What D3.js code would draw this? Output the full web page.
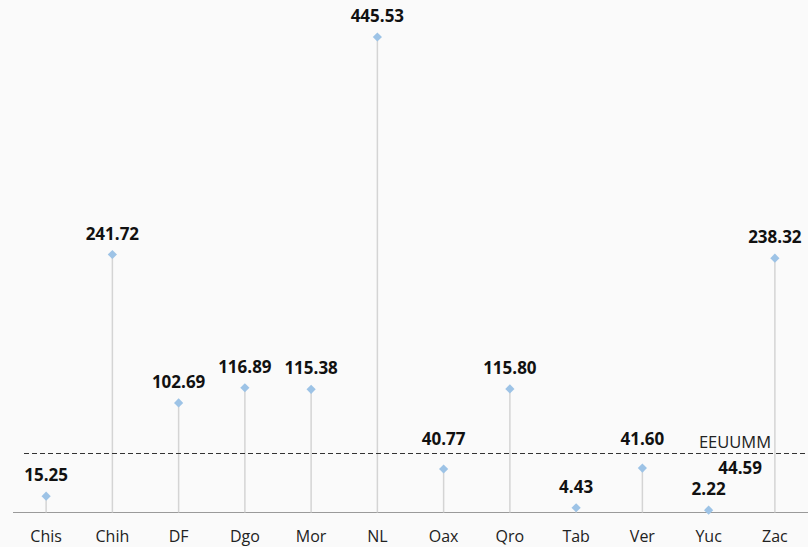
<!DOCTYPE html>
<html>
<head>
<meta charset="utf-8">
<script src="https://cdn.jsdelivr.net/npm/d3@7"></script>
<style>
  html, body { margin: 0; padding: 0; background: #fafafa; }
  svg { display: block; font-family: "Open Sans", "Noto Sans", sans-serif; }
  .stem { stroke: #d4d4d4; stroke-width: 1.5; }
  .dot { fill: #9dc3e6; }
  .val { font-weight: bold; font-size: 17px; fill: #111; }
  .cat { font-size: 16px; fill: #222; }
</style>
</head>
<body>
<div id="main"></div>
<script>
// values
var states = ['Chis', 'Chih', 'DF', 'Dgo', 'Mor', 'NL', 'Oax', 'Qro', 'Tab', 'Ver', 'Yuc', 'Zac'];
var values = [15.25, 241.72, 102.69, 116.89, 115.38, 445.53, 40.77, 115.80, 4.43, 41.60, 2.22, 238.32];
var refName = 'EEUUMM';
var refLabel = '44.59';
var refLevel = 55.5; // where the dashed line sits in the picture

var width = 808, height = 547;

var svg = d3.select('#main').append('svg')
  .attr('width', width)
  .attr('height', height);

var x = d3.scaleBand()
  .domain(states)
  .range([13, 808]);

var y = d3.scaleLinear()
  .domain([0, d3.max(values)])
  .range([512.5, 37]);

var data = states.map(function(s, i) { return { state: s, value: values[i] }; });

// baseline
svg.append('line')
  .attr('x1', 13).attr('x2', width)
  .attr('y1', y(0)).attr('y2', y(0))
  .attr('stroke', '#9a9a9a')
  .attr('stroke-width', 1);

// stems
svg.selectAll('.stem')
  .data(data)
  .enter().append('line')
  .attr('class', 'stem')
  .attr('x1', function(d) { return x(d.state) + x.bandwidth() / 2; })
  .attr('x2', function(d) { return x(d.state) + x.bandwidth() / 2; })
  .attr('y1', y(0))
  .attr('y2', function(d) { return y(d.value); });

// reference line
var refY = Math.round(y(refLevel)) + 0.5;
svg.append('line')
  .attr('x1', 24).attr('x2', width)
  .attr('y1', refY).attr('y2', refY)
  .attr('stroke', '#333')
  .attr('stroke-width', 1.2)
  .attr('stroke-dasharray', '5,3');

svg.append('text')
  .attr('class', 'cat')
  .attr('x', 771)
  .attr('y', refY - 6)
  .attr('text-anchor', 'end')
  .style('font-size', '16.5px')
  .text(refName);

svg.append('text')
  .attr('class', 'val')
  .attr('x', 762)
  .attr('y', refY + 20)
  .attr('text-anchor', 'end')
  .text(refLabel);

// markers
var diamond = d3.symbol().type(d3.symbolDiamond2).size(54);
svg.selectAll('.dot')
  .data(data)
  .enter().append('path')
  .attr('class', 'dot')
  .attr('d', diamond)
  .attr('transform', function(d) {
    return 'translate(' + (x(d.state) + x.bandwidth() / 2) + ',' + y(d.value) + ')';
  });

// value labels, pushed above the dashed line when they would cross it
function labelY(d) {
  var ly = y(d.value) - 15;
  if (ly > refY - 14 && ly < refY + 14) ly = refY - 8.5;
  return ly;
}

svg.selectAll('.val-label')
  .data(data)
  .enter().append('text')
  .attr('class', 'val val-label')
  .attr('text-anchor', 'middle')
  .attr('x', function(d) { return x(d.state) + x.bandwidth() / 2; })
  .attr('y', labelY)
  .text(function(d) { return d.value.toFixed(2); });

// category labels
svg.selectAll('.cat-label')
  .data(states)
  .enter().append('text')
  .attr('class', 'cat cat-label')
  .attr('text-anchor', 'middle')
  .attr('x', function(d) { return x(d) + x.bandwidth() / 2; })
  .attr('y', 542)
  .text(function(d) { return d; });
</script>
</body>
</html>
